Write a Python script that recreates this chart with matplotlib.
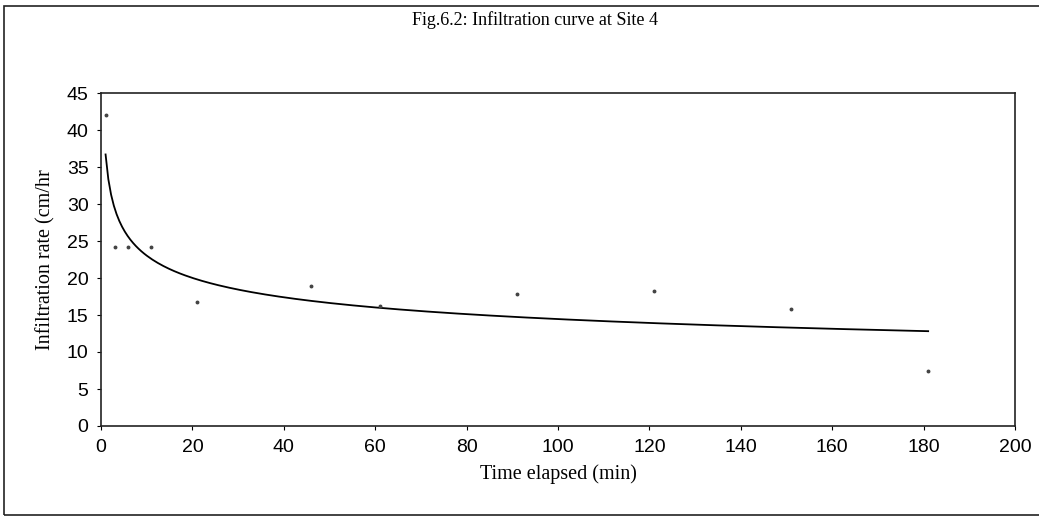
import numpy as np
import matplotlib.pyplot as plt
from matplotlib.patches import Rectangle

# measured infiltration at Site 4
time_min = np.array([1, 3, 6, 11, 21, 46, 61, 91, 121, 151, 181])
rate_cm_hr = np.array([42.0, 24.2, 24.2, 24.2, 16.8, 18.9, 16.2, 17.8, 18.2, 15.8, 7.4])

x_ticks = [0, 20, 40, 60, 80, 100, 120, 140, 160, 180, 200]
y_ticks = [0, 5, 10, 15, 20, 25, 30, 35, 40, 45]

# power trendline y = a * t^b fitted in log-log space
b, log_a = np.polyfit(np.log(time_min), np.log(rate_cm_hr), 1)
t_fit = np.linspace(time_min[0], time_min[-1], 300)
rate_fit = np.exp(log_a) * t_fit**b

serif = ['Liberation Serif', 'DejaVu Serif']
sans = ['Liberation Sans', 'DejaVu Sans']

fig = plt.figure(figsize=(10.39, 5.19), dpi=100)
fig.patch.set_facecolor('white')

# frame round the whole chart, open on the right
fig.add_artist(Rectangle((4 / 1039, 1 - 515 / 519), 1.2, (515 - 6) / 519,
                         transform=fig.transFigure, fill=False,
                         edgecolor='#222222', linewidth=1.2))

ax = fig.add_axes([101 / 1039, 1 - 426 / 519, 914 / 1039, 333 / 519])
ax.plot(t_fit, rate_fit, color='black', linewidth=1.3)
ax.plot(time_min, rate_cm_hr, linestyle='none', marker='o', markersize=1.8,
        color='#444444')

ax.set_xlim(0, 200)
ax.set_ylim(0, 45)
ax.set_xticks(x_ticks)
ax.set_yticks(y_ticks)
ax.tick_params(direction='out', length=3, width=0.8, pad=6, labelsize=14)
for lab in ax.get_xticklabels() + ax.get_yticklabels():
    lab.set_family(sans)
for sp in ax.spines.values():
    sp.set_linewidth(1.2)
    sp.set_color('#222222')

ax.set_xlabel('Time elapsed (min)', family=serif, fontsize=14.5, labelpad=6)
ax.set_ylabel('Infiltration rate (cm/hr', family=serif, fontsize=14.5, labelpad=8)
fig.text(535 / 1039, 1 - 20 / 519, 'Fig.6.2: Infiltration curve at Site 4',
         family=serif, fontsize=13, ha='center', va='center')

fig.savefig('out.png', dpi=100)
